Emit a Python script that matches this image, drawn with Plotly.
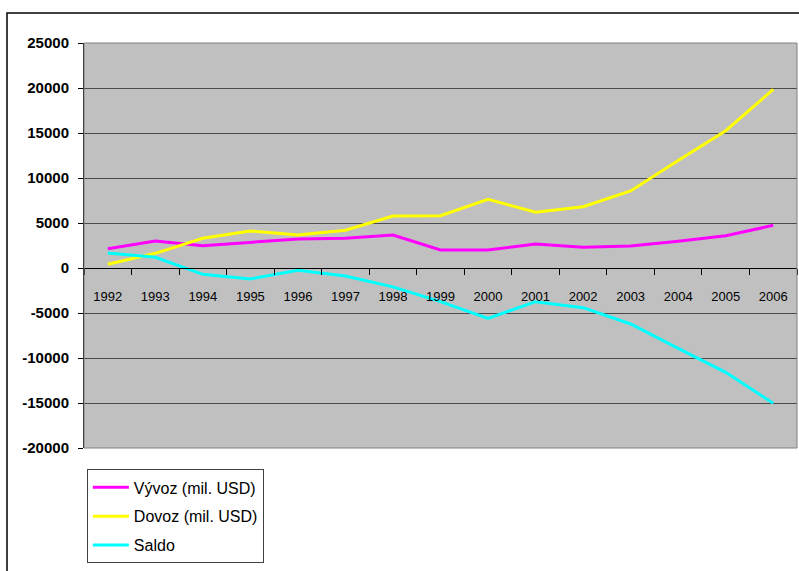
import plotly.graph_objects as go

years = ["1992", "1993", "1994", "1995", "1996", "1997", "1998", "1999",
         "2000", "2001", "2002", "2003", "2004", "2005", "2006"]
vyvoz = [2150, 3000, 2480, 2820, 3220, 3300, 3670, 2000, 2000, 2670, 2300, 2440, 2960, 3590, 4740]
dovoz = [410, 1630, 3300, 4110, 3670, 4200, 5780, 5810, 7630, 6190, 6810, 8560, 11950, 15250, 19850]
saldo = [1670, 1190, -700, -1220, -260, -890, -2100, -3740, -5590, -3740, -4410, -6220, -8930, -11590, -15040]

names = ["Vývoz (mil. USD)", "Dovoz (mil. USD)", "Saldo"]
colors = ["#FF00FF", "#FFFF00", "#00FFFF"]
y_range = [-20000, 25000]
y_ticks = [-20000, -15000, -10000, -5000, 0, 5000, 10000, 15000, 20000, 25000]

fig = go.Figure()
for i, (nm, vals, col) in enumerate(zip(names, [vyvoz, dovoz, saldo], colors)):
    fig.add_trace(go.Scatter(x=years, y=vals, mode="lines", name=nm,
                             legendgroup=f"g{i}",
                             line=dict(color=col, width=3)))

zero_pos = (0 - y_range[0]) / (y_range[1] - y_range[0])

fig.update_layout(
    width=799, height=571,
    margin=dict(l=84, r=2, t=43, b=123),
    paper_bgcolor="white",
    plot_bgcolor="#C0C0C0",
    showlegend=True,
    legend=dict(x=0.004, y=-0.053, xanchor="left", yanchor="top",
                bgcolor="white", bordercolor="#404040", borderwidth=1,
                font=dict(family="Liberation Sans, Arial", size=16, color="black"),
                traceorder="grouped", tracegroupgap=5, itemwidth=36),
    xaxis=dict(type="category", categoryorder="array", categoryarray=years,
               range=[-0.5, len(years) - 0.5],
               anchor="free", position=zero_pos,
               showline=True, linecolor="black", linewidth=1,
               ticks="outside", ticklen=6, tickcolor="black", tickson="boundaries",
               showgrid=False, ticklabelstandoff=16,
               tickfont=dict(family="Liberation Sans, Arial", size=13, color="black")),
    yaxis=dict(range=y_range, tickvals=y_ticks, ticktext=[str(v) for v in y_ticks],
               showline=True, linecolor="black", linewidth=1,
               ticks="outside", ticklen=5, tickcolor="black",
               showgrid=True, gridcolor="#4a4a4a", gridwidth=1,
               zeroline=True, zerolinecolor="#303030", zerolinewidth=1,
               ticklabelstandoff=6,
               tickfont=dict(family="Liberation Sans, Arial", size=15, color="black", weight="bold")),
    shapes=[
        dict(type="rect", xref="paper", yref="paper", x0=0, x1=1, y0=0, y1=1,
             line=dict(color="#808080", width=1), layer="above"),
        dict(type="rect", xref="paper", yref="paper",
             x0=(7 - 84) / 713, x1=1.05, y0=(448 - 13) / 405, y1=-0.5,
             line=dict(color="black", width=1.5), layer="below"),
    ],
)

fig.write_html("out.html", config={"displayModeBar": False},
               post_script="document.body.style.margin='0';")
